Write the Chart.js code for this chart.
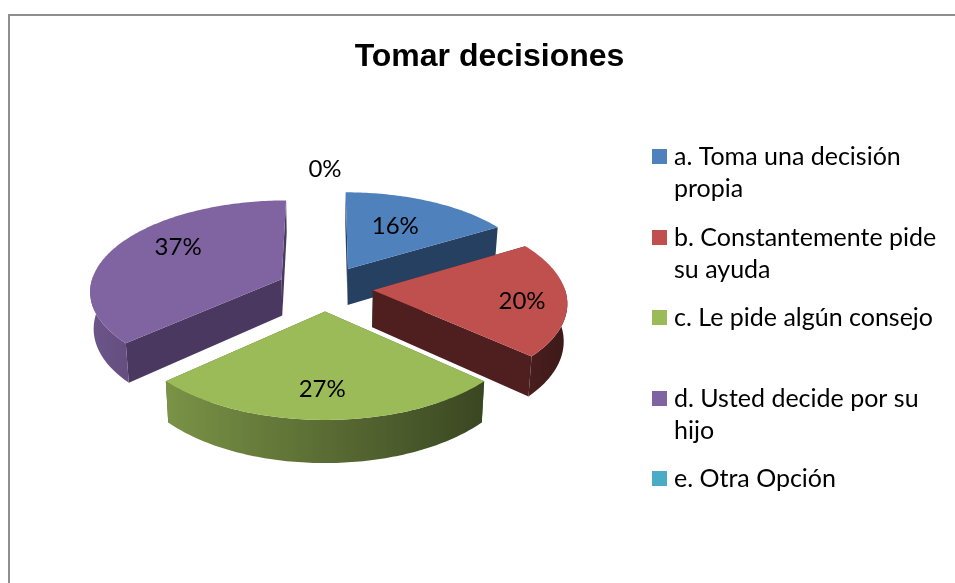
<!DOCTYPE html>
<html><head><meta charset="utf-8">
<style>
html,body{margin:0;padding:0;background:#fff;overflow:hidden}
#wrap{position:relative;width:955px;height:583px;overflow:hidden}
#frame{position:absolute;left:8px;top:14px;width:960px;height:600px;border:2px solid #8e8e8e;box-sizing:border-box}
canvas{position:absolute;left:0;top:0}
</style>
<script src="https://cdn.jsdelivr.net/npm/chart.js@4"></script>
</head><body>
<div id="wrap"><div id="frame"></div><canvas id="c" width="955" height="583"></canvas></div>
<script>
const chartTitle = 'Tomar decisiones';
const categories = ['a. Toma una decisión propia','b. Constantemente pide su ayuda','c. Le pide algún consejo','d. Usted decide por su hijo','e. Otra Opción'];
const legendLines = [['a. Toma una decisión','propia'],['b. Constantemente pide','su ayuda'],['c. Le pide algún consejo'],['d. Usted decide por su','hijo'],['e. Otra Opción']];
const values = [8,10,13,18,0];
const colors = ['#4f81bd','#c0504d','#9bbb59','#8064a2','#4bacc6'];
const faceColors = ['#254061','#4f1f1f','#4f6029','#4b3860','#2a6070'];
const legendBoxTop = [149,230,310,391,471];
const labelRadial = [0.6,0.77,0.74,0.69,1.31];
const labelTurn = [-2,3,1,9,0];
const drawOrder = [0,3,1,2];
const FONT = 'Lato, Carlito, Calibri, sans-serif';

const TILT=0.469, PERSP=0.117, DEPTH=0.192, LIFT=-4, BOTTOM_SCALE=0.985, TITLE_CENTER=489.5;

function shade(hex,f){
  const n=parseInt(hex.slice(1),16);
  const c=[(n>>16)&255,(n>>8)&255,n&255].map(v=>Math.max(0,Math.min(255,Math.round(v*f))));
  return `rgb(${c[0]},${c[1]},${c[2]})`;
}
function projector(el){
  const R=el.outerRadius, e=(el.options.offset||0)/R;
  const a0=el.startAngle+Math.PI/2, a1=el.endAngle+Math.PI/2, mid=(a0+a1)/2;
  const ou=e*Math.sin(mid), ov=-e*Math.cos(mid);
  const cx=el.x, cy=el.y+LIFT;
  const pt=(r,th,low)=>{
    const u=ou+r*Math.sin(th), v=ov-r*Math.cos(th);
    const p=1/(1-PERSP*v);
    let x=u*R*p, y=v*TILT*R*p;
    if(low){x*=BOTTOM_SCALE;y+=DEPTH*R*p;}
    return [cx+x,cy+y];
  };
  return {pt,a0,a1,mid};
}
const wallShade=th=>0.58-0.28*Math.sin(th);
const pie3d={
  id:'pie3d',
  afterLayout(chart){
    const t=chart.titleBlock, w=t.right-t.left;
    t.left=TITLE_CENTER-w/2; t.right=TITLE_CENTER+w/2;
  },
  beforeDatasetDraw(chart){
    const ctx=chart.ctx, arcs=chart.getDatasetMeta(0).data;
    const poly=(pts,fill)=>{
      ctx.beginPath();pts.forEach((p,i)=>i?ctx.lineTo(p[0],p[1]):ctx.moveTo(p[0],p[1]));ctx.closePath();
      ctx.fillStyle=fill;ctx.fill();
    };
    drawOrder.forEach(i=>{
      const el=arcs[i]; const {pt,a0,a1}=projector(el);
      [a0,a1].forEach(a=>poly([pt(0,a),pt(1,a),pt(1,a,true),pt(0,a,true)],faceColors[i]));
      const steps=Math.max(2,Math.ceil((a1-a0)/(Math.PI/180)));
      const angles=[];
      for(let s=0;s<=steps;s++){
        const t=a0+(a1-a0)*s/steps;
        if(Math.cos(t)<=0.03) angles.push(t);
      }
      if(angles.length>1){
        const tops=angles.map(t=>pt(1,t)), lows=angles.map(t=>pt(1,t,true));
        const xs=tops.map(p=>p[0]), x0=Math.min(...xs), x1=Math.max(...xs);
        const g=ctx.createLinearGradient(x0,0,x1,0);
        angles.forEach((t,j)=>{
          const o=(xs[j]-x0)/(x1-x0);
          if(o>=0&&o<=1) g.addColorStop(o,shade(colors[i],wallShade(t)));
        });
        poly(tops.concat(lows.reverse()),g);
      }
      const top=[pt(0,a0)];
      for(let s=0;s<=steps;s++) top.push(pt(1,a0+(a1-a0)*s/steps));
      poly(top,colors[i]);
    });
    return false;
  },
  afterDatasetsDraw(chart){
    const ctx=chart.ctx, arcs=chart.getDatasetMeta(0).data;
    const total=values.reduce((a,b)=>a+b,0);
    ctx.save();
    ctx.fillStyle='#000';ctx.font='24px '+FONT;ctx.textAlign='center';ctx.textBaseline='middle';
    arcs.forEach((el,i)=>{
      const {pt,mid}=projector(el);
      const p=pt(labelRadial[i],mid+labelTurn[i]*Math.PI/180);
      ctx.fillText(Math.round(values[i]/total*100)+'%',p[0],p[1]);
    });
    ctx.font='25px '+FONT;
    ctx.textAlign='left';ctx.textBaseline='alphabetic';
    legendLines.forEach((lines,i)=>{
      ctx.fillStyle=colors[i];
      ctx.fillRect(652,legendBoxTop[i],15,15);
      ctx.fillStyle='#000';
      lines.forEach((t,j)=>ctx.fillText(t,674,legendBoxTop[i]+16+j*32));
    });
    ctx.restore();
  }
};
new Chart(document.getElementById('c'),{
  type:'pie',
  data:{labels:categories,datasets:[{data:values,backgroundColor:colors,offset:48,borderWidth:0}]},
  options:{
    responsive:false,animation:false,
    events:[],
    layout:{padding:{left:109,right:414,top:0,bottom:75}},
    plugins:{
      legend:{display:false},
      tooltip:{enabled:false},
      title:{display:true,text:chartTitle,color:'#000',font:{family:'"Liberation Sans", Arial, sans-serif',size:32,weight:'bold',lineHeight:1.2},padding:{top:38,bottom:0}}
    }
  },
  plugins:[pie3d]
});
</script>
</body></html>
